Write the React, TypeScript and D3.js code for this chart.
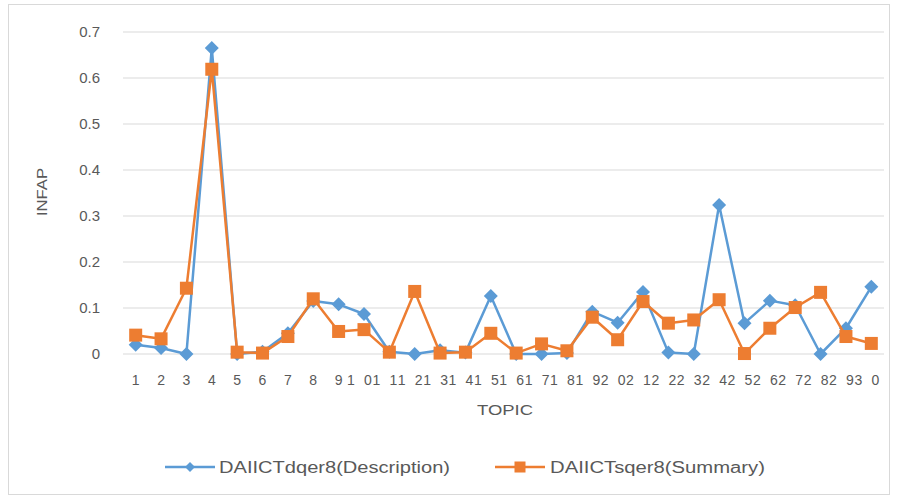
import React from "react";
import * as d3 from "d3";

const topics: string[] = ["1","2","3","4","5","6","7","8","9","10","11","12","13","14","15","16","17","18","19","20","21","22","23","24","25","26","27","28","29","30"];
const description: number[] = [0.02,0.013,0,0.665,0,0.005,0.045,0.115,0.108,0.087,0.005,0,0.008,0.003,0.126,0,0,0.002,0.092,0.068,0.135,0.003,0,0.324,0.067,0.116,0.106,0,0.056,0.146];
const summary: number[] = [0.041,0.033,0.143,0.619,0.004,0.002,0.038,0.12,0.049,0.053,0.004,0.136,0.002,0.004,0.045,0.002,0.022,0.007,0.08,0.031,0.114,0.067,0.074,0.118,0.001,0.056,0.101,0.134,0.038,0.023];
const yTicks: number[] = [0,0.1,0.2,0.3,0.4,0.5,0.6,0.7];
const seriesNames: string[] = ["DAIICTdqer8(Description)","DAIICTsqer8(Summary)"];

const W = 898, H = 499;
const BLUE = "#5B9BD5", ORANGE = "#ED7D31";
const TXT = "#595959", GRID = "#D9D9D9";
const FONT = "'Liberation Sans', Arial, sans-serif";

export default function App() {
  const x = d3.scalePoint<string>().domain(topics).range([123, 884]).padding(0.5);
  const y = d3.scaleLinear().domain([0, 0.7]).range([354, 32]);
  const line = d3.line<number>().x((_, i) => x(topics[i])!).y(d => y(d));

  const diamond = (cx: number, cy: number, r: number) =>
    `M${cx},${cy - r}L${cx + r},${cy}L${cx},${cy + r}L${cx - r},${cy}Z`;

  return (
    <svg width={W} height={H} style={{ position: "absolute", left: 0, top: 0, background: "#fff" }} fontFamily={FONT}>
      <rect x={8.5} y={4.5} width={881} height={490} fill="#fff" stroke={GRID} />
      {yTicks.map(t => (
        <g key={t}>
          <line x1={123} x2={884} y1={y(t)} y2={y(t)} stroke={GRID} strokeWidth={1} />
          <text x={100} y={y(t)} dy="0.35em" textAnchor="end" fontSize={15} fill={TXT}>{String(t)}</text>
        </g>
      ))}
      {topics.map(t => {
        const cx = x(t)!;
        if (t.length === 1) {
          return <text key={t} x={cx} y={385} textAnchor="middle" fontSize={14} fill={TXT}>{t}</text>;
        }
        return (
          <text key={t} x={`${cx - 13} ${cx + 4}`} y={385} textAnchor="middle" fontSize={14} fill={TXT}>{t}</text>
        );
      })}
      <text x={505} y={415} textAnchor="middle" fontSize={15} fill={TXT} textLength={56} lengthAdjust="spacingAndGlyphs">TOPIC</text>
      <text transform={`translate(42,192) rotate(-90)`} textAnchor="middle" dy="0.35em" fontSize={15} fill={TXT} textLength={48} lengthAdjust="spacingAndGlyphs">INFAP</text>

      <path d={line(description)!} fill="none" stroke={BLUE} strokeWidth={2.5} strokeLinejoin="round" />
      {description.map((v, i) => (
        <path key={"d" + i} d={diamond(x(topics[i])!, y(v), 7)} fill={BLUE} />
      ))}
      <path d={line(summary)!} fill="none" stroke={ORANGE} strokeWidth={2.5} strokeLinejoin="round" />
      {summary.map((v, i) => (
        <rect key={"s" + i} x={x(topics[i])! - 6.5} y={y(v) - 6.5} width={13} height={13} fill={ORANGE} />
      ))}

      <g>
        <line x1={165} x2={215} y1={467} y2={467} stroke={BLUE} strokeWidth={2.5} />
        <path d={diamond(190, 467, 5)} fill={BLUE} />
        <text x={219} y={467} dy="0.35em" fontSize={16} fill={TXT} textLength={231} lengthAdjust="spacingAndGlyphs">{seriesNames[0]}</text>
        <line x1={495} x2={545} y1={467} y2={467} stroke={ORANGE} strokeWidth={2.5} />
        <rect x={514.5} y={461.5} width={11} height={11} fill={ORANGE} />
        <text x={550} y={467} dy="0.35em" fontSize={16} fill={TXT} textLength={215} lengthAdjust="spacingAndGlyphs">{seriesNames[1]}</text>
      </g>
    </svg>
  );
}
